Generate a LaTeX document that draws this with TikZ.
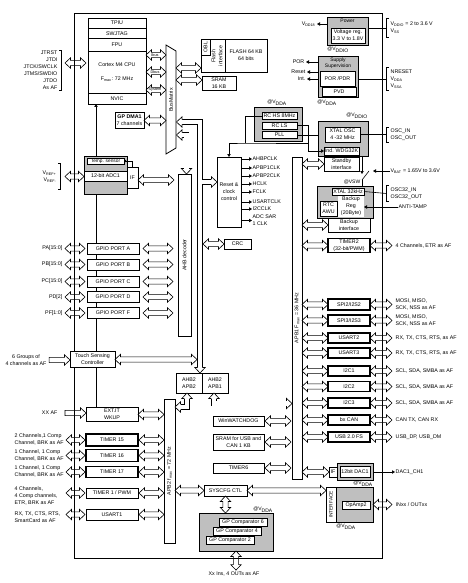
\documentclass[tikz,border=0pt]{standalone}
\usepackage{fontspec}
\setmainfont{Liberation Sans}
\usepackage{tikz}
\usetikzlibrary{arrows.meta,positioning,calc,backgrounds}
\tikzset{
  % blocks
  box/.style={draw,fill=white,line width=0.8pt,outer sep=0pt,inner sep=0.5pt,align=center},
  pbox/.style={box,line width=1.1pt},
  tbox/.style={box,line width=1.5pt},
  gbox/.style={draw,fill=black!25,line width=0.8pt,outer sep=0pt,inner sep=0pt},
  bar/.style={box,inner sep=0pt},
  % texts
  pin/.style={inner sep=0.5pt,align=left,anchor=west},
  pinl/.style={inner sep=0.5pt,align=right,anchor=east},
  tag/.style={inner sep=0pt,align=center,font=\fontsize{5}{6}\selectfont},
  busname/.style={inner sep=0pt,font=\fontsize{3.8}{4}\selectfont},
  % connectors
  busln/.style={line width=0.6pt,line join=miter},
  shaft/.style={double,double distance=4.6pt,line width=0.6pt},
  wire/.style={line width=0.6pt},
  sig/.style={wire,-{Triangle[length=3pt,width=3.4pt]}}
}
% hollow bus arrows: y (or x) is taken from the first point
\newcommand\hbus[2]{\draw[busln] let \p1=#1, \p2=#2 in
  (\x1,\y1) -- (\x1+5.5pt,\y1+5.2pt) -- (\x1+5.5pt,\y1+2.6pt) -- (\x2-5.5pt,\y1+2.6pt)
  -- (\x2-5.5pt,\y1+5.2pt) -- (\x2,\y1) -- (\x2-5.5pt,\y1-5.2pt) -- (\x2-5.5pt,\y1-2.6pt)
  -- (\x1+5.5pt,\y1-2.6pt) -- (\x1+5.5pt,\y1-5.2pt) -- cycle;}
\newcommand\vbus[2]{\draw[busln] let \p1=#1, \p2=#2 in
  (\x1,\y1) -- (\x1+5.2pt,\y1-5.5pt) -- (\x1+2.6pt,\y1-5.5pt) -- (\x1+2.6pt,\y2+5.5pt)
  -- (\x1+5.2pt,\y2+5.5pt) -- (\x1,\y2) -- (\x1-5.2pt,\y2+5.5pt) -- (\x1-2.6pt,\y2+5.5pt)
  -- (\x1-2.6pt,\y1-5.5pt) -- (\x1-5.2pt,\y1-5.5pt) -- cycle;}
\newcommand\hone[2]{\draw[busln] let \p1=#1, \p2=#2 in
  (\x1,\y1+2.6pt) -- (\x2-5.5pt,\y1+2.6pt) -- (\x2-5.5pt,\y1+5.2pt) -- (\x2,\y1)
  -- (\x2-5.5pt,\y1-5.2pt) -- (\x2-5.5pt,\y1-2.6pt) -- (\x1,\y1-2.6pt) -- cycle;}
% head of a bent bus
\newcommand\bushead[2]{%
  \fill[white,shift={#1},rotate=#2] (0,0) -- (-5.5pt,5.2pt) -- (-5.5pt,-5.2pt) -- cycle;
  \draw[busln,shift={#1},rotate=#2] (-5.5pt,2.6pt) -- (-5.5pt,5.2pt) -- (0,0) -- (-5.5pt,-5.2pt) -- (-5.5pt,-2.6pt);}
% pin brackets
\newcommand\pinsl[2]{\draw[wire] ([shift={(1,-#2)}]#1.north east) -- ++(2.5,0) |- ([shift={(1,#2)}]#1.south east);}
\newcommand\pinsr[2]{\draw[wire] ([shift={(-1,-#2)}]#1.north west) -- ++(-2.5,0) |- ([shift={(-1,#2)}]#1.south west);}

\begin{document}
\begin{tikzpicture}[x=1pt,y=-1pt,font=\fontsize{5.3}{7}\selectfont]
\useasboundingbox (0,0) rectangle (467,583);
\coordinate (pinL) at (65,0);
\coordinate (pinR) at (392,0);

% Cortex core
\node[box,minimum width=58,minimum height=10,anchor=north] (tpiu) at (117,18) {TPIU};
\node[box,minimum width=58,minimum height=10.5,below=0pt of tpiu] (swj) {SWJTAG};
\node[box,minimum width=58,minimum height=12.5,below=0pt of swj] (fpu) {FPU};
\node[box,minimum width=58,minimum height=42,below=0pt of fpu] (core) {Cortex M4 CPU\\[7pt]F\textsubscript{max}: 72 MHz};
\node[box,minimum width=58,minimum height=11,below=0pt of core] (nvic) {NVIC};

\node[pinl] (jtag) at (58,70) {JTRST\\JTDI\\JTCK/SWCLK\\JTMS/SWDIO\\JTDO\\As AF};
\pinsl{jtag}{0}
\hbus{(pinL |- 0,63)}{([xshift=-2pt]core.west)}

% bus matrix
\draw[line width=0.8pt,fill=white] (166,45) -- (176,51) -- (176,148) -- (166,154) -- cycle;
\node[rotate=90,inner sep=0pt] (bm) at (171,100) {BusMatrix};
\coordinate (bmw) at (166,100);
\coordinate (bme) at (176,100);
\hbus{(core.east |- 0,55)}{(bmw)}
\hbus{(core.east |- 0,72)}{(bmw)}
\hbus{(core.east |- 0,90)}{(bmw)}
\node[busname] (ibus) at (155,55) {Ibus};
\node[busname] (dbus) at (155,72) {Dbus};
\node[busname] (sbus) at (155,90) {System};

\node[box,minimum width=29,minimum height=16] (dma) at (129.5,120.5) {\textbf{GP DMA1}\\7 channels};
\hbus{(dma.east)}{(bmw)}

% flash and sram
\node[box,minimum width=24,minimum height=33] (flif) at (213,55.5) {};
\node[box,minimum width=9,minimum height=16,anchor=north west] (obl) at (flif.north west) {\rotatebox{90}{OBL}};
\node[inner sep=0pt] (fltxt) at (217.5,56) {\rotatebox{90}{\begin{tabular}{@{}c@{}}Flash\\interface\end{tabular}}};
\node[box,minimum width=42,minimum height=33,right=0pt of flif] (flash) {FLASH 64 KB\\64 bits};
\node[box,minimum width=34,minimum height=14] (sram) at (219,83) {SRAM\\16 KB};
\hbus{(bme |- 0,68)}{(flif.west)}
\hbus{(bme |- 0,80)}{(sram.west)}

% power
\node[gbox,minimum width=41,minimum height=28] (power) at (347.5,31) {};
\node[tag] (powert) at (347.5,21) {Power};
\node[box,minimum width=34,minimum height=15] (vreg) at (348,35.5) {Voltage reg.\\3.3 V to 1.8V};
\node[pinl] (vdd18) at (316,24) {V\textsubscript{DD18}};
\draw[sig] (power.west |- vdd18.east) -- ([xshift=1pt]vdd18.east);
\node[tag] (at1) at (338,50) {@V\textsubscript{DDIO}};
\node[pin] (vddio) at (390,28) {V\textsubscript{DDIO} = 2 to 3.6 V\\V\textsubscript{SS}};
\pinsr{vddio}{3}
\draw[wire] (power.east |- vddio.west) -- ([xshift=-3.5pt]vddio.west);

% supply supervision
\node[gbox,minimum width=40,minimum height=41] (sup) at (338,76.5) {};
\node[tag] (supt) at (338,63) {Supply\\Supervision};
\node[box,minimum width=35,minimum height=15] (por) at (337.5,78.5) {POR /PDR};
\node[box,minimum width=34,minimum height=9] (pvd) at (339,91.5) {PVD};
\node[pinl] (port) at (305,62) {POR};
\node[pinl] (rst) at (306,72) {Reset};
\node[pinl] (intr) at (306,79) {Int.};
\draw[sig] (sup.west |- port.east) -- ([xshift=1pt]port.east);
\draw[sig] (sup.west |- rst.east) -- ([xshift=1pt]rst.east);
\draw[sig] (sup.west |- intr.east) -- ([xshift=1pt]intr.east);
\node[tag] (at2) at (327,103) {@V\textsubscript{DDA}};
\node[pin] (nrst) at (390,79) {NRESET\\V\textsubscript{DDA}\\V\textsubscript{SSA}};
\pinsr{nrst}{1.5}
\draw[wire] (sup.east |- nrst.west) -- ([xshift=-3.5pt]nrst.west);

% internal oscillators
\node[tag] (at3) at (277,103) {@V\textsubscript{DDA}};
\node[gbox,minimum width=48,minimum height=34] (rcg) at (278,124) {};
\node[box,minimum width=35,minimum height=7,inner sep=0pt] (rchs) at (279.5,116) {RC HS 8MHz};
\node[box,minimum width=35,minimum height=7,inner sep=0pt] (rcls) at (279.5,125.5) {RC LS};
\node[box,minimum width=35,minimum height=7,inner sep=0pt] (pll) at (279.5,135) {PLL};

% external oscillator
\node[tag] (at4) at (357,116) {@V\textsubscript{DDIO}};
\node[gbox,minimum width=50,minimum height=35] (xosc) at (343,138.5) {};
\node[box,minimum width=35,minimum height=15] (xtal) at (342.5,134.5) {XTAL OSC\\4 -32 MHz};
\node[box,minimum width=35,minimum height=8,inner sep=0pt] (wdg) at (341.5,151) {Ind. WDG32K};
\node[pin] (osc) at (390,134.5) {OSC\_IN\\OSC\_OUT};
\pinsr{osc}{1}
\draw[wire] (xtal.east) -- ([xshift=-3.5pt]osc.west);
\node[box,minimum width=35,minimum height=14] (stby) at (341.5,164) {Standby\\interface};

% reset and clock control
\node[box,minimum width=24,minimum height=70] (rcc) at (229,192) {Reset \&\\clock\\control};
\coordinate (clkj) at (245,143);
\coordinate (clkk) at (308,143);
\draw[wire] (rchs.west) -| (clkj);
\draw[sig] (clkk) -- (clkj) -| (rcc.north);
\draw[sig] (rcls.east) -| (clkk |- wdg.west) -- (wdg.west);
\draw[wire] (pll.east) -- (pll.east -| xosc.west);
\node[pin] (ck1) at (252,159) {AHBPCLK};
\node[pin] (ck2) at (252,168) {APBP1CLK};
\node[pin] (ck3) at (252,176) {APBP2CLK};
\node[pin] (ck4) at (252,184) {HCLK};
\node[pin] (ck5) at (252,192) {FCLK};
\node[pin] (ck6) at (252,202) {USARTCLK};
\node[pin] (ck7) at (252,209) {I2CCLK};
\node[pin] (ck8) at (252,220.5) {ADC SAR\\1 CLK};
\draw[sig] (rcc.east |- ck1.west) -- (ck1.west);
\draw[sig] (rcc.east |- ck2.west) -- (ck2.west);
\draw[sig] (rcc.east |- ck3.west) -- (ck3.west);
\draw[sig] (rcc.east |- ck4.west) -- (ck4.west);
\draw[sig] (rcc.east |- ck5.west) -- (ck5.west);
\draw[sig] (rcc.east |- ck6.west) -- (ck6.west);
\draw[sig] (rcc.east |- ck7.west) -- (ck7.west);
\draw[sig] (rcc.east |- ck8.west) -- (ck8.west);
\node[box,minimum width=27,minimum height=10] (crc) at (237.5,244) {CRC};

% backup domain
\node[pin] (vbat) at (390,171) {V\textsubscript{BAT} = 1.65V to 3.6V};
\coordinate (swc) at (362,180);
\node[tag] (at5) at (352,182) {@VSW};
\node[gbox,minimum width=56,minimum height=32] (bkp) at (345,202) {};
\node[box,minimum width=32,minimum height=7,inner sep=0pt] (x32) at (348,191.5) {XTAL 32kHz};
\node[box,minimum width=17,minimum height=15] (rtc) at (328.5,208.5) {RTC\\AWU};
\node[box,draw=none,minimum width=26,minimum height=21] (bkreg) at (351,206.5) {Backup\\Reg\\(20Byte)};
\node[pin] (osc32) at (390,193.5) {OSC32\_IN\\OSC32\_OUT};
\pinsr{osc32}{1.5}
\draw[wire] (x32.east) -- ([xshift=-3.5pt]osc32.west);
\node[pin] (tamp) at (398,207) {ANTI-TAMP};
\draw[sig] (tamp.west) -- (bkreg.east |- tamp.west);
\draw[sig] (swc |- xosc.south) -- ([yshift=6pt]swc);
\draw[wire] (swc) -- ++(7,-9);
\draw[sig] (vbat.west) -- ++(-17,0);
\draw[wire] (swc) -- (swc |- bkp.north);
\node[box,minimum width=42,minimum height=14] (bkif) at (349,225) {Backup\\interface};

% ADC
\node[gbox,minimum width=43,minimum height=38] (adc) at (105.5,175) {};
\node[box,minimum width=37,minimum height=6,inner sep=0pt,font=\fontsize{4.8}{5}\selectfont] (temp) at (105.5,161) {Temp. sensor};
\node[box,minimum width=43,minimum height=10] (adc1) at (105.5,176) {12-bit ADC1};
\node[box,minimum width=11,minimum height=21] (adcif) at (132.5,177.5) {IF};
\draw[wire,-{Triangle[length=2pt,width=2.4pt]}] (adcif.north) |- (temp.east);
\node[pinl] (vref) at (57,176.5) {V\textsubscript{REF+}\\V\textsubscript{REF-}};
\pinsl{vref}{6.5}
\hbus{([xshift=8pt]vref.east)}{(adc.west)}

% AHB side
\node[bar,minimum width=13,minimum height=162] (dec) at (184.5,255) {\rotatebox{90}{AHB decoder}};
\hbus{(adcif.east |- 0,180)}{([xshift=-4pt]dec.west)}
\coordinate (ahbx) at (200,122);
\coordinate (ahbr) at (203,122);
\coordinate (decx) at (186.5,135);
\node[box,minimum width=26,minimum height=20] (br2) at (189,383) {AHB2\\APB2};
\node[box,minimum width=26,minimum height=20,right=0pt of br2] (br1) {AHB2\\APB1};
\draw[shaft] (182,122) -- (ahbx) -- (ahbx |- 0,367.5) (ahbx |- 0,182) -- (211,182);
\bushead{(176.5,122)}{180}
\bushead{(ahbx |- br2.north)}{-90}
\bushead{(rcc.west |- 0,182)}{0}
\draw[shaft] (182,135) -- (decx) -- (decx |- 0,168.5);
\bushead{(176.5,135)}{180}
\bushead{(decx |- dec.north)}{-90}
\hbus{(ahbr |- crc.west)}{(crc.west)}

% GPIO ports
\node[box,minimum width=52,minimum height=11] (gpa) at (113,248.5) {GPIO PORT A};
\node[box,minimum width=52,minimum height=11] (gpb) at (113,264.5) {GPIO PORT B};
\node[box,minimum width=52,minimum height=11] (gpc) at (113,281.5) {GPIO PORT C};
\node[box,minimum width=52,minimum height=11] (gpd) at (113,297) {GPIO PORT D};
\node[box,minimum width=52,minimum height=11] (gpf) at (113,313) {GPIO PORT F};
\node[pinl] (pa) at (63,248.5) {PA[15:0]};
\node[pinl] (pb) at (63,264.5) {PB[15:0]};
\node[pinl] (pc) at (63,281.5) {PC[15:0]};
\node[pinl] (pd) at (63,297) {PD[2]};
\node[pinl] (pf) at (63,313) {PF[1:0]};
\hbus{(pinL |- gpa.west)}{([xshift=-2pt]gpa.west)}
\hbus{(pinL |- gpb.west)}{([xshift=-2pt]gpb.west)}
\hbus{(pinL |- gpc.west)}{([xshift=-2pt]gpc.west)}
\hbus{(pinL |- gpd.west)}{([xshift=-2pt]gpd.west)}
\hbus{(pinL |- gpf.west)}{([xshift=-2pt]gpf.west)}
\hbus{([xshift=4pt]gpa.east)}{([xshift=-5pt]dec.west)}
\hbus{([xshift=4pt]gpb.east)}{([xshift=-5pt]dec.west)}
\hbus{([xshift=4pt]gpc.east)}{([xshift=-5pt]dec.west)}
\hbus{([xshift=4pt]gpd.east)}{([xshift=-5pt]dec.west)}
\hbus{([xshift=4pt]gpf.east)}{([xshift=-5pt]dec.west)}

% touch sensing
\node[box,minimum width=45,minimum height=16] (tsc) at (92.5,359.5) {Touch Sensing\\Controller};
\node[inner sep=0.5pt,align=center] (tscp) at (26,360) {6 Groups of\\4 channels as AF};
\hone{([xshift=2pt]tscp.east)}{(tsc.west)}
\hbus{(tsc.east)}{([xshift=-3pt]ahbx)}

% APB2 side
\node[bar,minimum width=11,minimum height=144] (apb2) at (169.5,471) {\rotatebox{90}{APB2 f\textsubscript{max} = 72 MHz}};
\coordinate (b2x) at (187,407);
\draw[shaft] (b2x |- 0,398.5) -- (b2x) -- (180.5,407);
\bushead{(b2x |- br2.south)}{90}
\bushead{(apb2.east |- b2x)}{180}

\node[box,minimum width=52,minimum height=14] (extit) at (112,414.5) {EXT.IT\\WKUP};
\node[pinl] (xxaf) at (58,413) {XX AF};
\hone{([xshift=7pt]xxaf.east)}{(extit.west)}
\hbus{(extit.east)}{(apb2.west)}

\node[tbox,minimum width=52,minimum height=12] (tim15) at (112,440) {TIMER 15};
\node[tbox,minimum width=52,minimum height=12] (tim16) at (112,455.5) {TIMER 16};
\node[tbox,minimum width=52,minimum height=11] (tim17) at (112,472) {TIMER 17};
\node[box,minimum width=52,minimum height=10] (tim1) at (112,493) {TIMER 1 / PWM};
\node[box,minimum width=52,minimum height=11] (usart1) at (112,514.5) {USART1};
\node[pin] (t15p) at (14,439) {2 Channels,1 Comp\\Channel, BRK as AF};
\node[pin] (t16p) at (14,455) {1 Channel, 1 Comp\\Channel, BRK as AF};
\node[pin] (t17p) at (14,471.5) {1 Channel, 1 Comp\\Channel, BRK as AF};
\node[pin] (t1p) at (14,496) {4 Channels,\\4 Comp channels,\\ETR, BRK as AF};
\node[pin] (u1p) at (14,517.5) {RX, TX, CTS, RTS,\\SmartCard as AF};
\hbus{([xshift=1pt]pinL |- tim15.west)}{([xshift=-1pt]tim15.west)}
\hbus{([xshift=1pt]pinL |- tim16.west)}{([xshift=-1pt]tim16.west)}
\hbus{([xshift=1pt]pinL |- tim17.west)}{([xshift=-1pt]tim17.west)}
\hbus{([xshift=1pt]pinL |- tim1.west)}{([xshift=-1pt]tim1.west)}
\hbus{([xshift=1pt]pinL |- usart1.west)}{([xshift=-1pt]usart1.west)}
\hbus{([xshift=1pt]tim15.east)}{(apb2.west)}
\hbus{([xshift=1pt]tim16.east)}{(apb2.west)}
\hbus{([xshift=1pt]tim17.east)}{(apb2.west)}
\hbus{([xshift=1pt]tim1.east)}{(apb2.west)}
\hbus{([xshift=1pt]usart1.east)}{(apb2.west)}

% system config and comparators
\node[box,minimum width=43,minimum height=11] (syscfg) at (225.5,490.5) {SYSCFG CTL};
\hbus{(apb2.east |- syscfg.west)}{(syscfg.west)}
\node[tag] (at6) at (263,510) {@V\textsubscript{DDA}};
\node[gbox,minimum width=74,minimum height=38] (comp) at (236,532) {};
\node[box,minimum width=48,minimum height=8,inner sep=0pt] (cmp6) at (243,522) {GP Comparator 6};
\node[box,minimum width=48,minimum height=8,inner sep=0pt] (cmp4) at (237,531) {GP Comparator 4};
\node[box,minimum width=48,minimum height=8,inner sep=0pt] (cmp2) at (230,540) {GP Comparator 2};
\vbus{(syscfg.south)}{(comp.north)}
\node[inner sep=0.5pt] (xio) at (234,574) {Xx Ins, 4 OUTs as AF};
\vbus{(comp.south)}{([yshift=1pt]xio.north)}

% APB1 side
\node[bar,minimum width=10,minimum height=322] (apb1) at (297,318) {\rotatebox{90}{APB1 F\textsubscript{max} = 36 MHz}};
\coordinate (b1x) at (214,403.5);
\draw[shaft] (b1x |- 0,398.5) -- (b1x) -- (286.5,403.5);
\bushead{(b1x |- br1.south)}{90}
\bushead{(apb1.west |- b1x)}{0}
\hbus{(apb1.east |- stby.west)}{(stby.west)}
\hbus{(apb1.east |- bkif.west)}{(bkif.west)}

\node[box,minimum width=51,minimum height=10] (wwdg) at (238.5,421) {WinWATCHDOG};
\node[box,minimum width=51,minimum height=16,inner sep=0pt] (usbram) at (238.5,442) {SRAM for USB and\\CAN 1 KB};
\node[box,minimum width=51,minimum height=10] (tim6) at (238.5,468) {TIMER6};
\hbus{([xshift=1pt]wwdg.east)}{([xshift=-1pt]apb1.west)}
\hbus{([xshift=1pt]usbram.east)}{([xshift=-1pt]apb1.west)}
\hbus{([xshift=1pt]tim6.east)}{([xshift=-1pt]apb1.west)}

\node[pbox,minimum width=42,minimum height=14] (tim2) at (349,245.5) {TIMER2\\(32-bit/PWM)};
\node[pbox,minimum width=42,minimum height=11] (spi2) at (349,304.5) {SPI2/I2S2};
\node[pbox,minimum width=42,minimum height=11] (spi3) at (349,320.5) {SPI3/I2S3};
\node[pbox,minimum width=42,minimum height=10] (usart2) at (349,338) {USART2};
\node[pbox,minimum width=42,minimum height=10] (usart3) at (349,353) {USART3};
\node[pbox,minimum width=42,minimum height=10] (i2c1) at (349,371) {I2C1};
\node[pbox,minimum width=42,minimum height=10] (i2c2) at (349,386.5) {I2C2};
\node[pbox,minimum width=42,minimum height=10] (i2c3) at (349,403) {I2C3};
\node[pbox,minimum width=42,minimum height=10] (can) at (349,420) {bx CAN};
\node[pbox,minimum width=42,minimum height=10] (usb) at (349,437) {USB 2.0 FS};
\hbus{(apb1.east |- tim2.west)}{(tim2.west)}
\hbus{(apb1.east |- spi2.west)}{(spi2.west)}
\hbus{(apb1.east |- spi3.west)}{(spi3.west)}
\hbus{(apb1.east |- usart2.west)}{(usart2.west)}
\hbus{(apb1.east |- usart3.west)}{(usart3.west)}
\hbus{(apb1.east |- i2c1.west)}{(i2c1.west)}
\hbus{(apb1.east |- i2c2.west)}{(i2c2.west)}
\hbus{(apb1.east |- i2c3.west)}{(i2c3.west)}
\hbus{(apb1.east |- can.west)}{(can.west)}
\hbus{(apb1.east |- usb.west)}{(usb.west)}
\hbus{(tim2.east)}{(pinR)}
\hbus{(spi2.east)}{(pinR)}
\hbus{(spi3.east)}{(pinR)}
\hbus{(usart2.east)}{(pinR)}
\hbus{(usart3.east)}{(pinR)}
\hbus{(i2c1.east)}{(pinR)}
\hbus{(i2c2.east)}{(pinR)}
\hbus{(i2c3.east)}{(pinR)}
\hbus{(can.east)}{(pinR)}
\hbus{(usb.east)}{(pinR)}
\node[pin] (tim2p) at (395,245.5) {4 Channels, ETR as AF};
\node[pin] (spi2p) at (395,304) {MOSI, MISO,\\SCK, NSS as AF};
\node[pin] (spi3p) at (395,320) {MOSI, MISO,\\SCK, NSS as AF};
\node[pin] (usart2p) at (395,338) {RX, TX, CTS, RTS, as AF};
\node[pin] (usart3p) at (395,353) {RX, TX, CTS, RTS, as AF};
\node[pin] (i2c1p) at (395,371) {SCL, SDA, SMBA as AF};
\node[pin] (i2c2p) at (395,386.5) {SCL, SDA, SMBA as AF};
\node[pin] (i2c3p) at (395,403) {SCL, SDA, SMBA as AF};
\node[pin] (canp) at (395,420) {CAN TX, CAN RX};
\node[pin] (usbp) at (395,437) {USB\_DP, USB\_DM};

% DAC
\node[gbox,minimum width=36,minimum height=17] (dacg) at (355,471.5) {};
\node[box,minimum width=30,minimum height=11] (dac) at (355,471.5) {12bit DAC1};
\node[box,minimum width=8,minimum height=10] (dacif) at (333,472) {IF};
\hbus{(apb1.east |- dacif.west)}{(dacif.west)}
\node[pin] (dacp) at (395,472) {DAC1\_CH1};
\draw[sig] (dacg.east |- dacp.west) -- (dacp.west);
\node[tag] (at7) at (363,484) {@V\textsubscript{DDA}};

% op-amp
\node[gbox,minimum width=47,minimum height=35] (opg) at (349.5,504.5) {};
\node[box,minimum width=10,minimum height=35,font=\fontsize{4.8}{5}\selectfont] (opif) at (331,504.5) {\rotatebox{90}{INTERFACE}};
\node[box,minimum width=28,minimum height=8,inner sep=0pt] (opamp) at (356,505) {OpAmp2};
\node[tag] (at8) at (346,527) {@V\textsubscript{DDA}};
\hbus{(syscfg.east)}{(opif.west)}
\hbus{(opg.east)}{(pinR)}
\node[pin] (opp) at (395,504.5) {INxx / OUTxx};

% outline and interrupt line behind the blocks
\begin{scope}[on background layer]
  \draw[line width=0.8pt] (74,13) rectangle (382,558);
  \draw[wire,-{Triangle[length=3pt,width=3.4pt]}] ([xshift=10pt]extit.north west) -- ([xshift=8pt]nvic.south west);
\end{scope}
\end{tikzpicture}
\end{document}
